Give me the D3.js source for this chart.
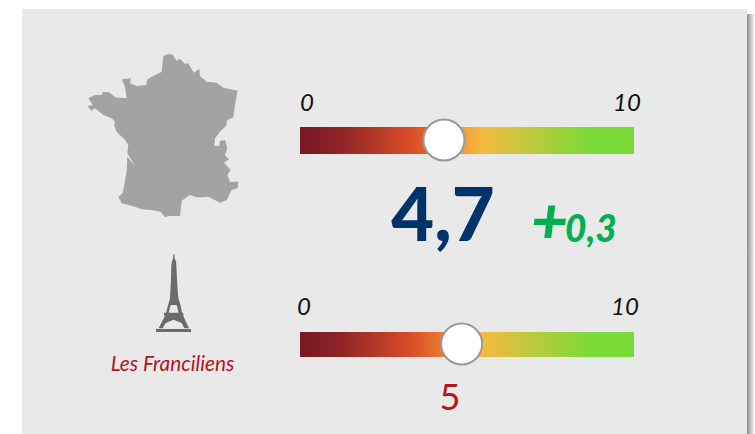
<!DOCTYPE html>
<html>
<head>
<meta charset="utf-8">
<script src="https://cdn.jsdelivr.net/npm/d3@7"></script>
<style>
  html, body { margin: 0; padding: 0; background: #fff; overflow: hidden; }
  text { font-family: Lato, "Open Sans", sans-serif; }
</style>
</head>
<body>
<div id="chart"></div>
<script>
// values
var rangeLabels = [0, 10];
var scoreLabels = ["4,7", "5"];
var knobValues = [4.31, 4.84];   // where the knobs actually sit on the 0-10 bars
var deltaSign = "+";
var deltaLabel = "0,3";
var groupLabel = "Les Franciliens";

var gradientStops = [0, 0.12, 0.34, 0.545, 0.87, 1];
var gradientColors = ["#761824", "#8e2427", "#dc4f28", "#f5ba40", "#7adb37", "#7adb37"];

// icon outlines, traced in a 570 wide box for the map and 450 wide for the tower
var franceOutline = [[280,48],[295,42],[308,44],[320,62],[330,56],[345,72],[355,70],[365,88],[372,98],[388,86],[390,108],[410,125],[440,128],[460,143],[503,152],[495,195],[490,232],[472,240],[468,258],[450,275],[435,295],[433,318],[448,318],[450,302],[465,300],[472,325],[465,345],[477,358],[462,368],[482,390],[472,405],[480,425],[505,425],[503,445],[485,450],[470,480],[450,488],[415,470],[400,472],[380,472],[360,465],[335,482],[330,528],[295,528],[285,532],[272,515],[245,510],[215,508],[195,500],[155,490],[145,470],[158,460],[170,395],[172,350],[195,378],[172,340],[175,315],[165,300],[140,275],[132,255],[135,245],[125,235],[100,225],[75,205],[65,212],[52,198],[68,195],[55,175],[75,165],[95,165],[100,155],[118,157],[135,172],[170,175],[165,140],[155,118],[183,115],[180,130],[200,138],[228,135],[232,118],[275,95]];
var towerOutline = [[220,28],[223,28],[224,42],[228,48],[229,62],[232,120],[235,160],[241,178],[246,203],[250,203],[250,212],[254,222],[267,250],[253,250],[245,234],[221,224],[197,234],[188,250],[176,250],[190,222],[195,212],[192,212],[192,203],[198,203],[205,178],[210,160],[213,100],[214,62],[216,48],[219,42]];
var towerWindow = [[212,180],[230,180],[236,203],[206,203]];
var towerBase = [[168,252],[273,252],[273,261],[168,261]];

var width = 755;
var height = 434;

var svg = d3.select("#chart")
  .append("svg")
    .attr("width", width)
    .attr("height", height)
    .style("display", "block");

var defs = svg.append("defs");

var grad = defs.append("linearGradient").attr("id", "barGrad");
grad.selectAll("stop")
  .data(gradientStops)
  .enter()
  .append("stop")
    .attr("offset", function(d) { return d; })
    .attr("stop-color", function(d, i) { return gradientColors[i]; });

var shadow = defs.append("linearGradient").attr("id", "panelShadow");
shadow.append("stop").attr("offset", 0).attr("stop-color", "#8c8c8c");
shadow.append("stop").attr("offset", 1).attr("stop-color", "#ffffff");

// panel and its soft right edge
svg.append("rect")
  .attr("x", 747).attr("y", 14)
  .attr("width", 8).attr("height", height - 14)
  .attr("fill", "url(#panelShadow)");

svg.append("rect")
  .attr("x", 22).attr("y", 9)
  .attr("width", 725).attr("height", height - 9)
  .attr("fill", "#e9e9e9");

var x = d3.scaleLinear().domain([0, 10]).range([300, 634]);

// France
var mapX = d3.scaleLinear().domain([0, 570]).range([70, 260]);
var mapY = d3.scaleLinear().domain([0, 570]).range([40, 230]);
var iconLine = function(sx, sy) {
  return d3.line()
    .x(function(d) { return sx(d[0]); })
    .y(function(d) { return sy(d[1]); })
    .curve(d3.curveLinearClosed);
};

svg.append("path")
  .attr("d", iconLine(mapX, mapY)(franceOutline))
  .attr("fill", "#a3a3a3");

// Eiffel tower
var towerX = d3.scaleLinear().domain([0, 450]).range([100, 250]);
var towerY = d3.scaleLinear().domain([0, 405]).range([245, 380]);
var towerPath = iconLine(towerX, towerY);

svg.append("path")
  .attr("d", towerPath(towerOutline) + towerPath(towerWindow))
  .attr("fill", "#6b6b6b")
  .attr("fill-rule", "evenodd");

svg.append("path")
  .attr("d", towerPath(towerBase))
  .attr("fill", "#6b6b6b");

svg.append("text")
  .attr("x", 172.5).attr("y", 371)
  .attr("text-anchor", "middle")
  .attr("font-style", "italic")
  .attr("font-size", 20.8)
  .attr("fill", "#b3151b")
  .text(groupLabel);

// the two sliders
var barTops = [127, 332];
var barHeights = [27, 25];
var knobY = [140, 344];
var labelY = [111, 315];
var labelShift = [[7, -7], [4, -9]];

var bars = svg.selectAll("g.slider")
  .data(knobValues)
  .enter()
  .append("g")
    .attr("class", "slider");

bars.append("rect")
  .attr("x", x(0))
  .attr("y", function(d, i) { return barTops[i]; })
  .attr("width", x(10) - x(0))
  .attr("height", function(d, i) { return barHeights[i]; })
  .attr("fill", "url(#barGrad)");

bars.append("circle")
  .attr("cx", function(d) { return x(d); })
  .attr("cy", function(d, i) { return knobY[i]; })
  .attr("r", 20.5)
  .attr("fill", "#fff")
  .attr("stroke", "#9a9a9a")
  .attr("stroke-width", 2);

bars.each(function(d, i) {
  d3.select(this).selectAll("text")
    .data(rangeLabels)
    .enter()
    .append("text")
      .attr("x", function(v, j) { return x(v) + labelShift[i][j]; })
      .attr("y", labelY[i])
      .attr("text-anchor", "middle")
      .attr("font-style", "italic")
      .attr("font-size", 24)
      .attr("fill", "#111")
      .text(function(v) { return v; });
});

// scores
svg.append("text")
  .attr("x", 443).attr("y", 241)
  .attr("text-anchor", "middle")
  .attr("font-weight", 900)
  .attr("font-size", 74)
  .attr("fill", "#00336a")
  .text(scoreLabels[0]);

svg.append("text")
  .attr("x", 531).attr("y", 244)
  .attr("font-weight", 900)
  .attr("font-style", "italic")
  .attr("font-size", 64)
  .attr("fill", "#00b050")
  .text(deltaSign);

svg.append("text")
  .attr("x", 565).attr("y", 242)
  .attr("font-weight", 900)
  .attr("font-style", "italic")
  .attr("font-size", 37)
  .attr("fill", "#00b050")
  .text(deltaLabel);

svg.append("text")
  .attr("x", 450).attr("y", 410)
  .attr("text-anchor", "middle")
  .attr("font-size", 36)
  .attr("fill", "#b3151b")
  .text(scoreLabels[1]);
</script>
</body>
</html>
